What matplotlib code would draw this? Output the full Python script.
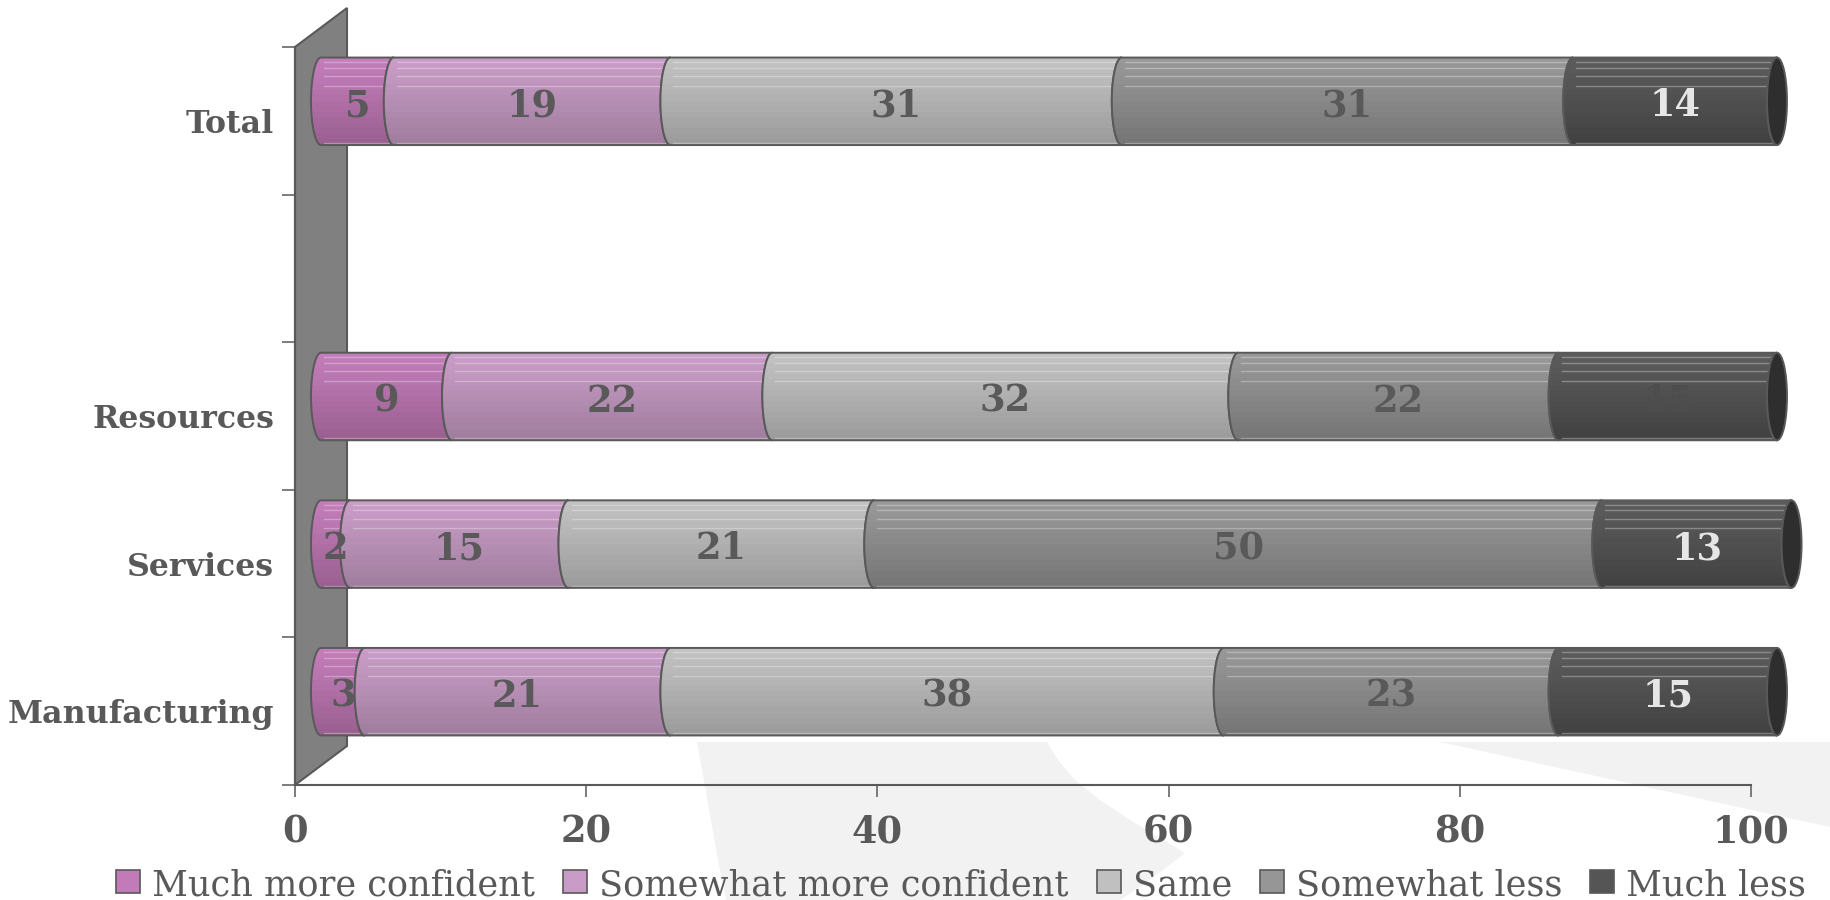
import numpy as np
import matplotlib
matplotlib.use("Agg")
import matplotlib.pyplot as plt
from matplotlib.path import Path
from matplotlib.patches import PathPatch, Polygon, Ellipse, Rectangle
from matplotlib.colors import to_rgb

# ---- data -------------------------------------------------------------
categories = ["Manufacturing", "Services", "Resources", "", "Total"]
series_names = ["Much more confident", "Somewhat more confident", "Same",
                "Somewhat less", "Much less"]
much_more = [3, 2, 9, np.nan, 5]
somewhat_more = [21, 15, 22, np.nan, 19]
same = [38, 21, 32, np.nan, 31]
somewhat_less = [23, 50, 22, np.nan, 31]
much_less = [15, 13, 15, np.nan, 14]
x_ticks = [0, 20, 40, 60, 80, 100]

series_values = [much_more, somewhat_more, same, somewhat_less, much_less]

# ---- style ------------------------------------------------------------
top_colors = ["#C47DBA", "#CA9DC8", "#C2C2C2", "#989898", "#5C5C5C"]
bottom_colors = ["#9A6090", "#A07E9E", "#9C9C9C", "#767676", "#424242"]
legend_colors = ["#C27AB8", "#C99BC7", "#C0C0C0", "#969696", "#555555"]
label_dark = "#595959"
label_light = "#E6E6E6"
# label colour per series (last series uses per-category colours)
value_colors = [[label_dark] * 5, [label_dark] * 5, [label_dark] * 5,
                [label_dark] * 5,
                [label_light, label_light, "#4D4D4D", label_light, label_light]]
edge = "#595959"
SERIF = "DejaVu Serif"

W, H = 1830, 900
fig = plt.figure(figsize=(W / 100, H / 100), dpi=100)
fig.patch.set_facecolor("white")


def fx(x):
    return x / W


def fy(y):
    return 1 - y / H


# background swooshes (figure pixel space, y measured from top)
swoosh_a = [(697, 742), (703, 775), (710, 815), (718, 860), (726, 900),
            (1120, 900), (1150, 880), (1185, 853), (1160, 838), (1130, 820),
            (1100, 800), (1075, 780), (1058, 760), (1047, 742)]
swoosh_b = [(1440, 742), (1830, 742), (1830, 827)]
for pts in (swoosh_a, swoosh_b):
    fig.add_artist(Polygon([(fx(x), fy(y)) for x, y in pts], closed=True,
                           transform=fig.transFigure, facecolor="#F2F2F2",
                           edgecolor="none", zorder=0))

# main axes = front frame of the 3-D plot
ax_l, ax_r, ax_t, ax_b = 295, 1751, 47, 785
ax = fig.add_axes([fx(ax_l), fy(ax_b), (ax_r - ax_l) / W, (ax_b - ax_t) / H])
ax.patch.set_alpha(0)
ax.set_xlim(0, 100)
ax.set_ylim(-0.5, len(categories) - 0.5)

px_x = (ax_r - ax_l) / 100.0
px_y = (ax_b - ax_t) / len(categories)
DX = 52 / px_x          # depth offset, x (data units)
DY = 39 / px_y          # depth offset, y (data units)
A = 10 / px_x           # half width of the cylinder's end ellipse
HB = 0.593 / 2          # half bar height

# back wall
ymin, ymax = -0.5, len(categories) - 0.5
ax.add_patch(Polygon([(0, ymin), (0, ymax), (DX, ymax + DY), (DX, ymin + DY)],
                     closed=True, facecolor="#808080", edgecolor=edge,
                     lw=1.5, zorder=1, clip_on=False))


def seg_path(x0, x1, yc, h, a, n=40):
    phi = np.linspace(0, np.pi, n)
    verts = [(x0, yc + h), (x1, yc + h)]
    verts += list(zip(x1 - a * np.sin(phi), yc + h * np.cos(phi)))
    verts += [(x0, yc - h)]
    verts += list(zip(x0 - a * np.sin(phi[::-1]), yc + h * np.cos(phi[::-1])))
    verts.append(verts[0])
    return Path(np.array(verts), closed=True)


def gradient(top, bottom, n=240, bands=16):
    t = np.linspace(0, 1, n)
    tq = np.floor(t * bands) / (bands - 1)
    tq = np.clip(tq, 0, 1) ** 1.1
    c0, c1 = np.array(to_rgb(top)), np.array(to_rgb(bottom))
    img = c0[None, :] * (1 - tq[:, None]) + c1[None, :] * tq[:, None]
    return img[:, None, :]


label_shift = 5 / px_y   # digits sit slightly below the bar's centre line
z = 3
for i, cat in enumerate(categories):
    if np.isnan(series_values[0][i]):
        continue
    yc = i + DY / 2
    left = 0.0
    for s, vals in enumerate(series_values):
        v = vals[i]
        x0 = left + DX / 2
        x1 = left + v + DX / 2
        path = seg_path(x0, x1, yc, HB, A)
        patch = PathPatch(path, facecolor="none", edgecolor=edge, lw=1.4,
                          zorder=z + 0.5, clip_on=False)
        ax.add_patch(patch)
        im = ax.imshow(gradient(top_colors[s], bottom_colors[s]),
                       extent=[x0 - A - 0.2, x1 + 0.2, yc - HB, yc + HB],
                       origin="upper", aspect="auto", interpolation="nearest",
                       zorder=z)
        im.set_clip_box(fig.bbox)
        im.set_clip_path(patch)
        for t in (0.05, 0.115, 0.21, 0.32, 0.975):
            yl = yc + HB - 2 * HB * t
            ln, = ax.plot([x0 + A * 0.3, x1], [yl, yl], color="white",
                          alpha=0.3, lw=1.0, zorder=z + 0.2)
            ln.set_clip_box(fig.bbox)
            ln.set_clip_path(patch)
        if s == len(series_values) - 1:
            ax.add_patch(Ellipse((x1, yc), 2 * A, 2 * HB, facecolor="#2E2E2E",
                                 edgecolor=edge, lw=1.4, zorder=z + 0.6,
                                 clip_on=False))
        ax.text(left + v / 2 + DX / 2, yc - label_shift, f"{v:g}",
                ha="center", va="center", fontsize=26.5, fontweight="bold",
                family=SERIF, color=value_colors[s][i], zorder=100)
        left += v
        z += 1

ax.set_xlim(0, 100)
ax.set_ylim(ymin, ymax)

# axes, ticks and labels
for side in ("top", "right"):
    ax.spines[side].set_visible(False)
for side in ("left", "bottom"):
    ax.spines[side].set_color(edge)
    ax.spines[side].set_linewidth(1.5)
    ax.spines[side].set_zorder(2)

ax.set_yticks(np.arange(ymin, ymax + 0.01, 1.0))
ax.set_yticklabels([])
ax.set_yticks(range(len(categories)), labels=categories, minor=True)
ax.tick_params(axis="y", which="major", length=9.5, width=1.1, color=edge,
               direction="out")
ax.tick_params(axis="y", which="minor", length=0, pad=15)
ax.set_xticks(x_ticks, labels=[str(t) for t in x_ticks])
ax.tick_params(axis="x", length=8.8, width=1.1, color=edge, direction="out",
               pad=12.5)
for lab in ax.get_yticklabels(minor=True):
    lab.set_fontfamily(SERIF)
    lab.set_fontweight("bold")
    lab.set_fontsize(22.8)
    lab.set_color(label_dark)
for lab in ax.get_xticklabels():
    lab.set_fontfamily(SERIF)
    lab.set_fontweight("bold")
    lab.set_fontsize(26.5)
    lab.set_color(label_dark)

# legend row laid out by hand, centred under the chart
renderer = fig.canvas.get_renderer()
box_w, box_h, box_gap, item_gap = 24, 23, 12, 28
base_y = 895
texts = []
widths = []
for name in series_names:
    t = fig.text(0, fy(base_y), name, fontsize=25.3, family=SERIF,
                 color=label_dark, va="baseline", ha="left")
    texts.append(t)
    widths.append(t.get_window_extent(renderer).width)
total = sum(box_w + box_gap + w for w in widths) + item_gap * (len(widths) - 1)
x = 961 - total / 2
for t, w, col in zip(texts, widths, legend_colors):
    fig.add_artist(Rectangle((fx(x), fy(893)), box_w / W, box_h / H,
                             transform=fig.transFigure, facecolor=col,
                             edgecolor=edge, lw=1.2))
    t.set_x(fx(x + box_w + box_gap))
    x += box_w + box_gap + w + item_gap

fig.savefig("out.png", dpi=100, facecolor="white")
